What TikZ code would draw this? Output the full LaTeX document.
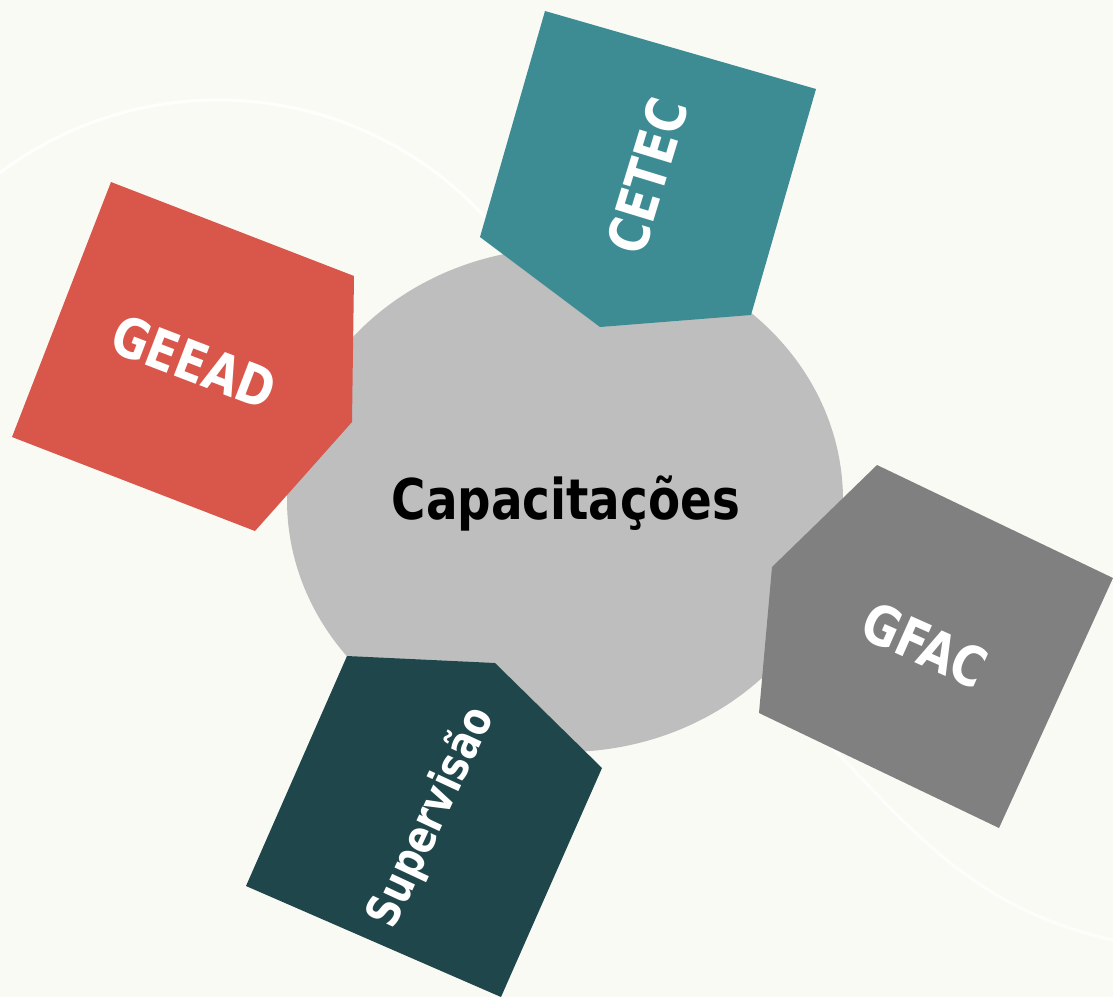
\documentclass[tikz,border=0pt]{standalone}
\usepackage{fontspec}
\setmainfont{DejaVu Sans Condensed}
\begin{document}
\begin{tikzpicture}[x=1pt,y=-1pt,
  lbl/.style={text=white,font=\fontsize{50}{50}\selectfont\bfseries,inner sep=0pt},
  title/.style={text=black,font=\fontsize{52}{52}\selectfont\bfseries,inner sep=0pt}]
\definecolor{bg}{HTML}{FAFAF5}
\definecolor{circ}{HTML}{BEBEBE}
\definecolor{geead}{HTML}{D9564B}
\definecolor{cetec}{HTML}{3E8C93}
\definecolor{gfac}{HTML}{808080}
\definecolor{superv}{HTML}{1F474B}
\useasboundingbox (0,0) rectangle (1113,997);
\fill[bg] (0,0) rectangle (1113,997);
% faint background decoration
\begin{scope}
  \clip (0,0) rectangle (1113,260);
  \draw[white,line width=3pt,opacity=0.8] (218,463) circle [radius=363];
\end{scope}
\draw[white,line width=3pt,opacity=0.6] (830,745) .. controls (920,840) and (980,910) .. (1113,940);
% central circle
\fill[circ] (565,500) ellipse [x radius=278, y radius=252];
% pentagons
\fill[geead] (111,182) -- (354,276) -- (352,422) -- (255,531) -- (12,437) -- cycle;
\fill[cetec] (545,11) -- (816,89) -- (751,315) -- (600,327) -- (480,237) -- cycle;
\fill[gfac] (877,465) -- (1113,578) -- (999,828) -- (759,713) -- (772,567) -- cycle;
\fill[superv] (347,656) -- (495,663) -- (602,768) -- (501,997) -- (246,886) -- cycle;
% labels
\node[title,yscale=1.08] (cap) at (566,503) {Capacitações};
\node[lbl,rotate=-21,yscale=1.1] (ngeead) at (194,362) {GEEAD};
\node[lbl,rotate=73,yscale=1.1] (ncetec) at (647,176) {CETEC};
\node[lbl,rotate=-24,yscale=1.1] (ngfac) at (925,645) {GFAC};
\node[lbl,rotate=65,yscale=1.1,font=\fontsize{42}{42}\selectfont\bfseries] (nsup) at (432,818) {Supervisão};
\end{tikzpicture}
\end{document}
